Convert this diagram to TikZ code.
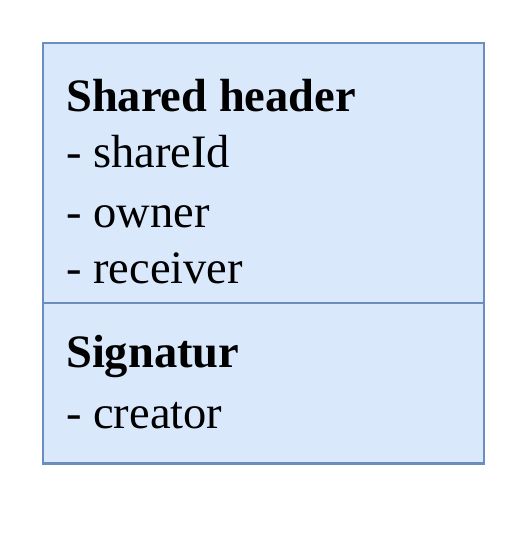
\documentclass[tikz,border=0pt]{standalone}
\usepackage{fontspec}
\setmainfont{Liberation Serif}
\definecolor{boxfill}{HTML}{DAE8FC}
\definecolor{boxline}{HTML}{6C8EBF}
\begin{document}
\begin{tikzpicture}[x=1pt,y=-1pt,
  section/.style={draw=boxline,fill=boxfill,line width=2.8pt,inner sep=0pt,anchor=north west},
  txt/.style={anchor=base west,inner sep=0pt,font=\fontsize{46.5}{54}\selectfont},
  ttl/.style={txt,font=\fontsize{46.5}{54}\selectfont\bfseries}]
\useasboundingbox (0,0) rectangle (524,544);
\node[section,minimum width=441pt,minimum height=260pt] (head) at (41.5,41.5) {};
\node[section,minimum width=441pt,minimum height=160.5pt] (sig) at (41.5,301.5) {};
\node[ttl] (t1) at (66,111.7) {Shared header};
\node[txt] (a1) at (66,167) {- shareId};
\node[txt] (a2) at (66,227) {- owner};
\node[txt] (a3) at (66,283) {- receiver};
\node[ttl] (t2) at (66,367) {Signatur};
\node[txt] (b1) at (66,428) {- creator};
\end{tikzpicture}
\end{document}
